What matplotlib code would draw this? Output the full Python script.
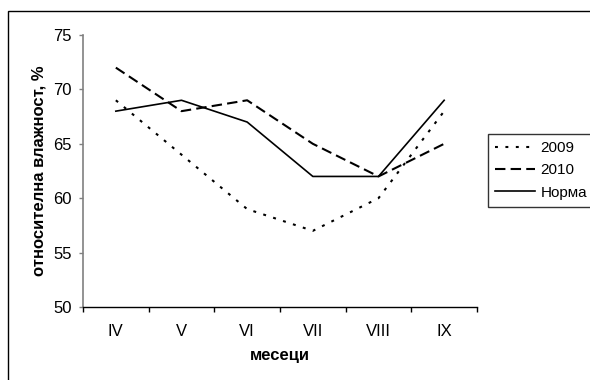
import matplotlib
matplotlib.use("Agg")
import matplotlib.pyplot as plt
from matplotlib.patches import Rectangle

plt.rcParams['font.family'] = ['Liberation Sans', 'DejaVu Sans']

meseci = ['IV', 'V', 'VI', 'VII', 'VIII', 'IX']
god_2009 = [69, 64, 59, 57, 60, 68]
god_2010 = [72, 68, 69, 65, 62, 65]
norma = [68, 69, 67, 62, 62, 69]
y_ticks = [50, 55, 60, 65, 70, 75]

fig = plt.figure(figsize=(5.9, 3.8), dpi=100)
ax = fig.add_axes([83/590, 73/380, 394/590, 272/380])

x = list(range(len(meseci)))
ax.plot(x, god_2009, color='black', lw=1.5, linestyle=(0, (1.4, 3.6)), label='2009')
ax.plot(x, god_2010, color='black', lw=1.5, linestyle=(0, (5, 2.5)), label='2010')
ax.plot(x, norma, color='black', lw=1.2, label='Норма')

ax.set_xlim(-0.5, len(meseci) - 0.5)
ax.set_ylim(50, 75)
ax.set_yticks(y_ticks)
ax.set_xticks(x)
ax.set_xticklabels(meseci)
ax.set_xticks([i - 0.5 for i in range(len(meseci) + 1)], minor=True)
ax.tick_params(axis='x', which='major', length=0, pad=12, labelsize=12)
ax.tick_params(axis='x', which='minor', length=3.5, direction='out', width=1, color='black')
ax.tick_params(axis='y', length=3, direction='out', width=1, color='#808080', labelsize=12, pad=5)

for s in ['top', 'right']:
    ax.spines[s].set_visible(False)
ax.spines['left'].set_color('#808080')
ax.spines['left'].set_linewidth(1.2)
ax.spines['bottom'].set_color('black')
ax.spines['bottom'].set_linewidth(1)

ax.set_xlabel('месеци', fontweight='bold', fontsize=12, labelpad=7)
ax.set_ylabel('относителна влажност, %', fontweight='bold', fontsize=12, labelpad=5)

leg = fig.legend(loc='upper left', bbox_to_anchor=(488/590, 1 - 134/380),
                 borderaxespad=0, fancybox=False, edgecolor='black',
                 fontsize=11, handlelength=2.6, handletextpad=0.4,
                 labelspacing=0.55, borderpad=0.45)
leg.get_frame().set_linewidth(1)

fig.patches.append(Rectangle((8/590, -0.1), 1.2, 1.1 - 11/380, transform=fig.transFigure,
                             fill=False, edgecolor='black', lw=1))

fig.savefig('out.png', dpi=100)
